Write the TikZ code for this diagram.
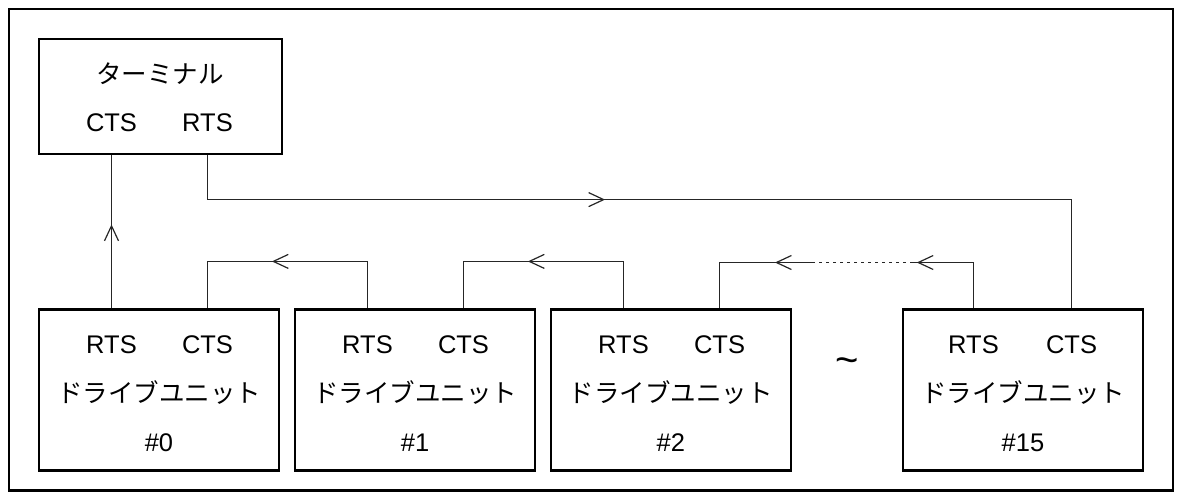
\documentclass[tikz,border=0pt]{standalone}
\usepackage{fontspec}
\setmainfont{Liberation Sans}
\newfontfamily\jp{Noto Sans CJK JP}
\usetikzlibrary{arrows.meta,decorations.markings}
\begin{document}
\begin{tikzpicture}[x=1pt,y=-1pt,
  box/.style={draw=black,line width=2.2pt,minimum width=240.5pt,minimum height=161pt,inner sep=0pt},
  tbox/.style={draw=black,line width=2.2pt,minimum width=243pt,minimum height=114.7pt,inner sep=0pt},
  lbl/.style={inner sep=0pt,font=\fontsize{25.5}{30}\selectfont},
  jlbl/.style={inner sep=0pt,font=\fontsize{25.5}{30}\selectfont\jp},
  conn/.style={line width=1.1pt,draw=black!85},
  dots/.style={conn,dash pattern=on 3.5pt off 3.5pt},
  midarrow/.style={postaction={decorate,decoration={markings,
    mark=at position #1 with {\arrow{Straight Barb[length=15pt,width=14pt,line width=1.2pt]}}}}}
]
\useasboundingbox (0,0) rectangle (1180,499);
\draw[line width=2.4pt] (8.7,8.7) rectangle (1172.7,490.3);

% terminal
\node[tbox] (t) at (160.2,96.7) {};
\node[jlbl] (tn) at (160,74) {ターミナル};
\node[lbl] (tc) at (111.5,123) {CTS};
\node[lbl] (tr) at (207.5,123) {RTS};

% drive units
\node[box] (d0) at (159,390) {};
\node[lbl] (d0r) at (111.5,345) {RTS};
\node[lbl] (d0c) at (207.5,345) {CTS};
\node[jlbl] (d0n) at (159,393) {ドライブユニット};
\node[lbl] (d0h) at (159,443) {\#0};

\node[box] (d1) at (415,390) {};
\node[lbl] (d1r) at (367.5,345) {RTS};
\node[lbl] (d1c) at (463.5,345) {CTS};
\node[jlbl] (d1n) at (415,393) {ドライブユニット};
\node[lbl] (d1h) at (415,443) {\#1};

\node[box] (d2) at (670.9,390) {};
\node[lbl] (d2r) at (623.5,345) {RTS};
\node[lbl] (d2c) at (719.5,345) {CTS};
\node[jlbl] (d2n) at (670.9,393) {ドライブユニット};
\node[lbl] (d2h) at (670.9,443) {\#2};

\node[box] (d15) at (1023,390) {};
\node[lbl] (d15r) at (973.5,345) {RTS};
\node[lbl] (d15c) at (1071.5,345) {CTS};
\node[jlbl] (d15n) at (1023,393) {ドライブユニット};
\node[lbl] (d15h) at (1023,443) {\#15};

\node[inner sep=0pt,font=\fontsize{40}{44}\selectfont] (tilde) at (847,366) {\textasciitilde};

% connectors
\draw[conn,midarrow=84pt] (d0.north -| d0r) -- (t.south -| tc);
\draw[conn,midarrow=442pt] (t.south -| tr) -- ++(0,44.45) -| (d15.north -| d15c);
\draw[conn,midarrow=142.6pt] (d1.north -| d1r) -- ++(0,-47) -| (d0.north -| d0c);
\draw[conn,midarrow=142.6pt] (d2.north -| d2r) -- ++(0,-47) -| (d1.north -| d1c);
\coordinate (g1) at (913,262.5);
\coordinate (g2) at (813,262.5);
\draw[conn,midarrow=102.6pt] (d15.north -| d15r) |- (g1);
\draw[dots] (g1) -- (g2);
\draw[conn,midarrow=38pt] (g2) -| (d2.north -| d2c);
\end{tikzpicture}
\end{document}
